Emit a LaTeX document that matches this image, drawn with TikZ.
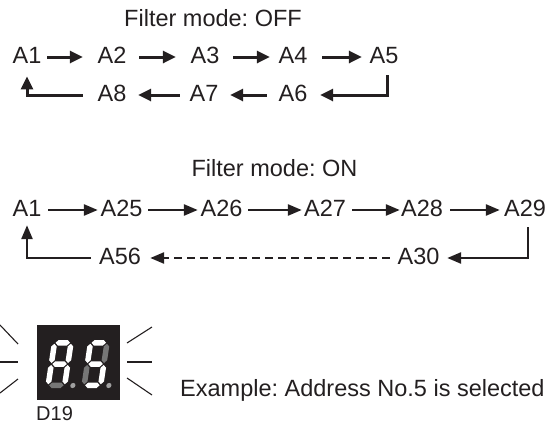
\documentclass[tikz,border=0pt]{standalone}
\usepackage{fontspec}
\setmainfont{Liberation Sans}
\usetikzlibrary{arrows.meta}
\definecolor{ink}{HTML}{231F20}
\definecolor{segoff}{HTML}{767676}
\definecolor{dpc}{HTML}{A0A0A0}
\newcommand\segH[4]{\fill[#4] (#1,#3) -- (#1+2.75,#3+2.75) -- (#2-2.75,#3+2.75) -- (#2,#3) -- (#2-2.75,#3-2.75) -- (#1+2.75,#3-2.75) -- cycle;}
\newcommand\segV[4]{\fill[#4] (#1,#2) -- (#1+2.75,#2+2.75) -- (#1+2.75,#3-2.75) -- (#1,#3) -- (#1-2.75,#3-2.75) -- (#1-2.75,#2+2.75) -- cycle;}
\newcommand\sevenseg[8]{%
 \segH{3.75}{18.25}{45.25}{#1}%
 \segV{19.25}{25}{44.25}{#2}%
 \segV{19.25}{3.75}{23}{#3}%
 \segH{3.75}{18.25}{2.75}{#4}%
 \segV{2.75}{3.75}{23}{#5}%
 \segV{2.75}{25}{44.25}{#6}%
 \segH{3.75}{18.25}{24}{#7}%
 \fill[#8] (27.5,2.5) circle (2.6);}
\begin{document}
\frenchspacing
\begin{tikzpicture}[x=1pt,y=-1pt,
 lbl/.style={font=\fontsize{23.5}{28}\selectfont, text=ink, inner sep=0pt, text height=16.5pt, text depth=4pt},
 arr/.style={draw=ink, line width=3pt, -{Triangle[length=13pt,width=12pt]}},
 arrs/.style={draw=ink, line width=2.6pt, -{Triangle[length=14pt,width=11pt]}},
 ray/.style={draw=ink, line width=1.1pt}]
\useasboundingbox (0,0) rectangle (550,426);

% ---- Filter mode OFF ----
\node[lbl, anchor=base] (t1) at (213,26.5) {Filter mode: OFF};
\node[lbl] (a1) at (27,57) {A1};
\node[lbl] (a2) at (112,57) {A2};
\node[lbl] (a3) at (205,57) {A3};
\node[lbl] (a4) at (293,57) {A4};
\node[lbl] (a5) at (384,57) {A5};
\node[lbl] (a8) at (112,95) {A8};
\node[lbl] (a7) at (204,95) {A7};
\node[lbl] (a6) at (293,95) {A6};
\draw[arr] ([xshift=5.6pt]a1.east) -- ([xshift=-14.6pt]a2.west);
\draw[arr] ([xshift=12.6pt]a2.east) -- ([xshift=-14.6pt]a3.west);
\draw[arr] ([xshift=13.6pt]a3.east) -- ([xshift=-8.6pt]a4.west);
\draw[arr] ([xshift=14.6pt]a4.east) -- ([xshift=-7.6pt]a5.west);
\draw[arr] ([xshift=3pt,yshift=-8pt]a5.south) |- ([xshift=12.6pt]a6.east);
\draw[arr] ([xshift=-11.6pt]a6.west) -- ([xshift=11.6pt]a7.east);
\draw[arr] ([xshift=-9.6pt]a7.west) -- ([xshift=11.6pt]a8.east);
\draw[arr] ([xshift=-14.6pt]a8.west) -| ([yshift=-9pt]a1.south);

% ---- Filter mode ON ----
\node[lbl, anchor=base] (t2) at (274.5,176) {Filter mode: ON};
\node[lbl] (b1) at (27,210) {A1};
\node[lbl] (b25) at (121.5,210) {A25};
\node[lbl] (b26) at (221.5,210) {A26};
\node[lbl] (b27) at (325,210) {A27};
\node[lbl] (b28) at (422,210) {A28};
\node[lbl] (b29) at (525,210) {A29};
\node[lbl] (b56) at (120,258) {A56};
\node[lbl] (b30) at (418.5,258) {A30};
\draw[arrs] ([xshift=6.6pt]b1.east) -- ([xshift=-2.6pt]b25.west);
\draw[arrs] ([xshift=5.6pt]b25.east) -- ([xshift=-2.6pt]b26.west);
\draw[arrs] ([xshift=5.6pt]b26.east) -- ([xshift=-2.1pt]b27.west);
\draw[arrs] ([xshift=6.1pt]b27.east) -- ([xshift=-1.1pt]b28.west);
\draw[arrs] ([xshift=7.1pt]b28.east) -- ([xshift=-4.1pt]b29.west);
\draw[arrs] ([xshift=3pt,yshift=-6.75pt]b29.south) |- ([xshift=7.6pt]b30.east);
\draw[arrs, dash pattern=on 8pt off 5pt] ([xshift=-7.6pt]b30.west) -- ([xshift=9.1pt]b56.east);
\draw[arrs] ([xshift=-8pt]b56.west) -| ([yshift=-4.75pt]b1.south);

% ---- Display ----
\fill[ink] (37,325) rectangle (120,400);
\begin{scope}[shift={(45,388)}, y=1pt, xslant=0.15]
 \sevenseg{white}{white}{white}{segoff}{white}{white}{white}{dpc}
\end{scope}
\begin{scope}[shift={(81,388)}, y=1pt, xslant=0.15]
 \sevenseg{white}{segoff}{white}{white}{segoff}{white}{white}{dpc}
\end{scope}
\draw[ray] (0,325) -- (18,344);
\draw[ray] (0,362) -- (18,362);
\draw[ray] (18,379) -- (0,393);
\draw[ray] (127,343) -- (152,327);
\draw[ray] (127,362) -- (152,362);
\draw[ray] (127,378) -- (152,395);
\node[font=\fontsize{20}{24}\selectfont, text=ink, anchor=base west, inner sep=0pt] (d19) at (36,420) {D19};
\node[font=\fontsize{23.5}{28}\selectfont, text=ink, anchor=base west, inner sep=0pt] (ex) at (180,396) {Example: Address No.5 is selected};
\end{tikzpicture}
\end{document}
